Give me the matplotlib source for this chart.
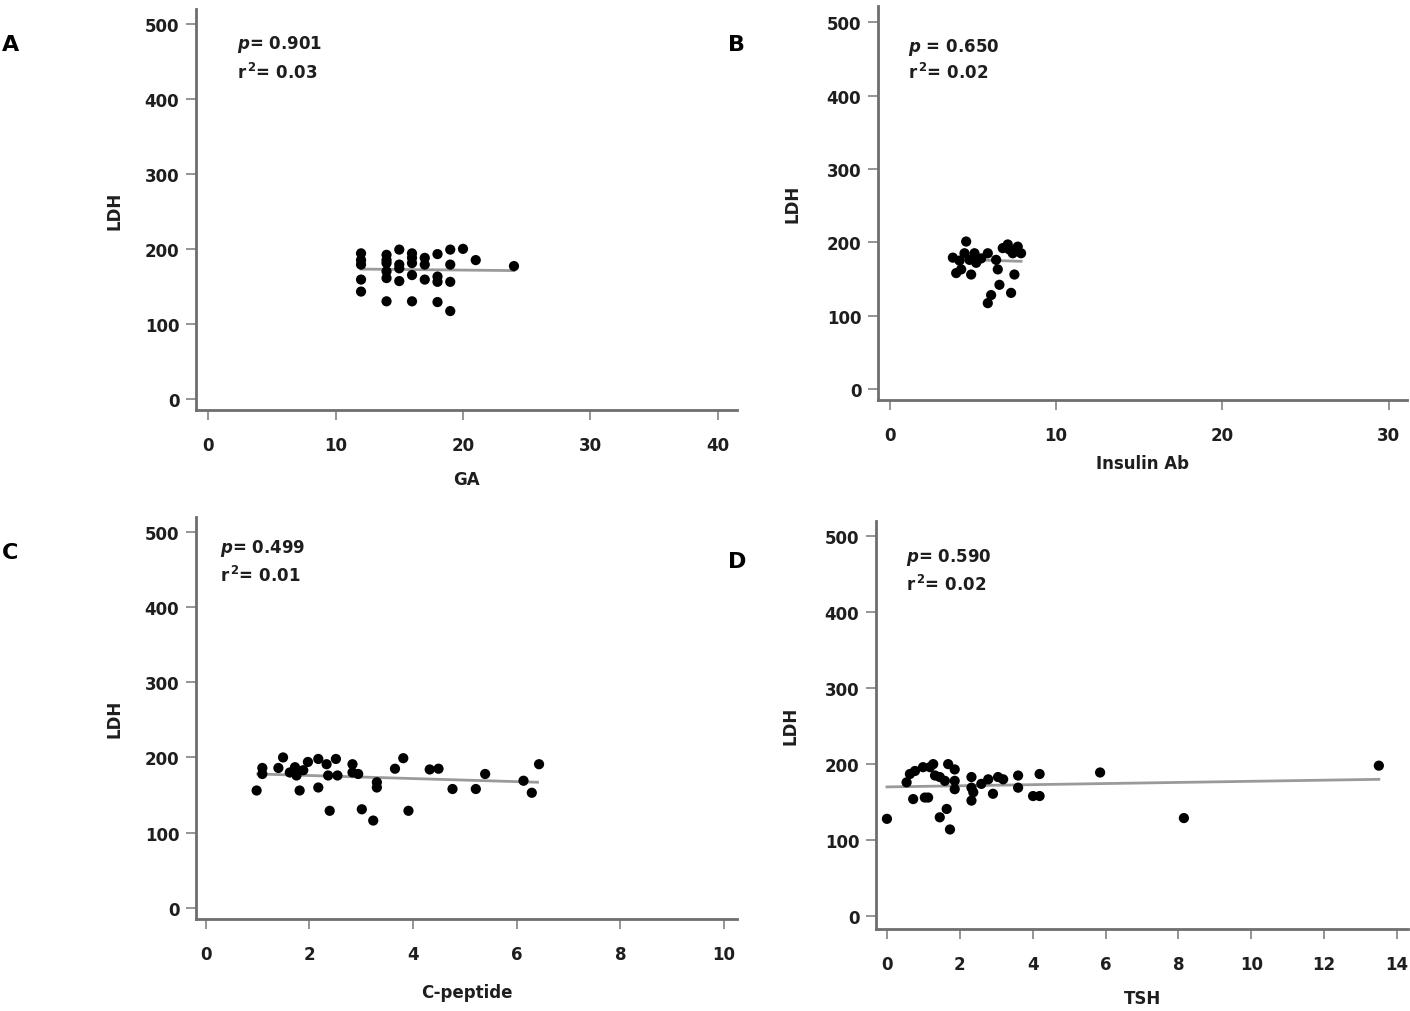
import matplotlib
matplotlib.use("Agg")
import matplotlib.pyplot as plt
import numpy as np

plt.rcParams['font.family'] = ['DejaVu Sans']
plt.rcParams['mathtext.fontset'] = 'custom'
plt.rcParams['mathtext.rm'] = 'DejaVu Sans:bold'
plt.rcParams['mathtext.it'] = 'DejaVu Sans:italic:bold'
plt.rcParams['mathtext.bf'] = 'DejaVu Sans:bold'

# ---------------- data ----------------
# Panel A: GA vs LDH
ga_x = [12, 12, 12, 12, 12, 14, 14, 14, 14, 14, 14, 15, 15, 15, 15, 16, 16, 16, 16, 16,
        17, 17, 17, 18, 18, 18, 18, 19, 19, 19, 19, 20, 21, 24]
ga_y = [194, 185, 179, 159, 143, 192, 185, 181, 170, 161, 130, 199, 179, 174, 157, 194, 188, 181, 165, 130,
        188, 179, 159, 193, 163, 156, 129, 199, 179, 156, 117, 200, 185, 177]
ga_fit_x = [12, 24]
ga_fit_y = [173, 171]

# Panel B: Insulin Ab vs LDH
ins_x = [3.8, 4.0, 4.3, 4.5, 4.6, 4.8, 4.9, 5.1, 5.5, 5.9, 6.1, 5.9, 6.4, 6.5, 6.6, 6.8,
         7.1, 7.2, 7.4, 7.5, 7.3, 7.7, 7.9, 4.2, 5.2]
ins_y = [179, 158, 163, 185, 201, 176, 156, 185, 178, 185, 128, 117, 176, 163, 142, 192,
         197, 190, 185, 156, 131, 194, 185, 175, 172]
ins_fit_x = [3.8, 7.9]
ins_fit_y = [177, 174]

# Panel C: C-peptide vs LDH
cp_x = [0.98, 1.09, 1.09, 1.40, 1.49, 1.62, 1.72, 1.75, 1.81, 1.88, 1.97, 2.17, 2.17, 2.33, 2.36,
        2.39, 2.51, 2.54, 2.83, 2.83, 2.94, 3.01, 3.23, 3.30, 3.30, 3.65, 3.81, 3.91, 4.32, 4.49,
        4.76, 5.21, 5.39, 6.13, 6.29, 6.43]
cp_y = [156, 186, 178, 186, 200, 180, 187, 176, 156, 183, 194, 198, 160, 191, 176,
        129, 198, 176, 191, 180, 178, 131, 116, 167, 160, 185, 199, 129, 184, 185,
        158, 158, 178, 169, 153, 191]
cp_fit_x = [1.0, 6.4]
cp_fit_y = [178, 167]

# Panel D: TSH vs LDH
tsh_x = [0.0, 0.54, 0.63, 0.77, 0.72, 0.99, 1.04, 1.13, 1.18, 1.27, 1.32, 1.45, 1.59, 1.64, 1.45,
         1.73, 1.68, 1.86, 1.86, 1.86, 2.32, 2.32, 2.37, 2.32, 2.59, 2.78, 2.91, 3.05, 3.19, 3.60,
         3.60, 4.01, 4.19, 4.19, 5.85, 8.15, 13.5]
tsh_y = [128, 176, 187, 191, 154, 196, 156, 156, 196, 200, 185, 183, 178, 141, 130,
         114, 200, 193, 178, 167, 183, 169, 163, 152, 174, 180, 161, 183, 180, 185,
         169, 158, 158, 187, 189, 129, 198]
tsh_fit_x = [0.0, 13.5]
tsh_fit_y = [170, 180]

panels = [
    dict(letter="A", x=ga_x, y=ga_y, fx=ga_fit_x, fy=ga_fit_y, xlabel="GA",
         xticks=[0, 10, 20, 30, 40], xlim=(-0.95, 41.5), ylim=(-15, 520),
         p="0.901", p_sep="= ", r2="0.03",
         rect=(196, 10, 737, 411), txt=(0.076, 0.913, 0.843), xpad=11, ypad=15),
    dict(letter="B", x=ins_x, y=ins_y, fx=ins_fit_x, fy=ins_fit_y, xlabel="Insulin Ab",
         xticks=[0, 10, 20, 30], xlim=(-0.7, 31.1), ylim=(-15, 522),
         p="0.650", p_sep=" = ", r2="0.02",
         rect=(878, 7, 1407, 401), txt=(0.057, 0.898, 0.832), xpad=7, ypad=18),
    dict(letter="C", x=cp_x, y=cp_y, fx=cp_fit_x, fy=cp_fit_y, xlabel="C-peptide",
         xticks=[0, 2, 4, 6, 8, 10], xlim=(-0.19, 10.25), ylim=(-15, 520),
         p="0.499", p_sep="= ", r2="0.01",
         rect=(196, 518, 737, 920), txt=(0.044, 0.925, 0.856), xpad=14, ypad=15),
    dict(letter="D", x=tsh_x, y=tsh_y, fx=tsh_fit_x, fy=tsh_fit_y, xlabel="TSH",
         xticks=[0, 2, 4, 6, 8, 10, 12, 14], xlim=(-0.3, 14.3), ylim=(-17, 520),
         p="0.590", p_sep="= ", r2="0.02",
         rect=(876, 522, 1408, 930), txt=(0.056, 0.914, 0.846), xpad=11, ypad=18),
]
yticks = [0, 100, 200, 300, 400, 500]

W, H = 1410, 1012
fig = plt.figure(figsize=(W / 100, H / 100), dpi=100)

spine_col = "#6e6e6e"
tick_col = "#8c8c8c"
text_col = "#1e1e1e"

letter_pos = {"A": (2, 45), "B": (728, 45), "C": (2, 553), "D": (728, 562)}

for pn in panels:
    l, t, r, b = pn["rect"]
    ax = fig.add_axes([l / W, 1 - b / H, (r - l) / W, (b - t) / H])
    ax.scatter(pn["x"], pn["y"], s=54, color="black", edgecolors="none", zorder=3)
    ax.plot(pn["fx"], pn["fy"], color="#9a9a9a", lw=2.0, zorder=2)
    ax.set_xlim(*pn["xlim"])
    ax.set_ylim(*pn["ylim"])
    ax.set_xticks(pn["xticks"])
    ax.set_yticks(yticks)
    for s in ["top", "right"]:
        ax.spines[s].set_visible(False)
    for s in ["left", "bottom"]:
        ax.spines[s].set_color(spine_col)
        ax.spines[s].set_linewidth(2.0)
    ax.tick_params(axis="both", direction="out", length=7, width=1.3, color=tick_col,
                   labelsize=12, labelcolor=text_col, pad=5)
    ax.tick_params(axis="x", pad=12)
    for lab in ax.get_xticklabels() + ax.get_yticklabels():
        lab.set_fontweight("bold")
    ax.set_xlabel(pn["xlabel"], fontsize=12, fontweight="bold", color=text_col, labelpad=pn["xpad"])
    ax.set_ylabel("LDH", fontsize=12, fontweight="bold", color=text_col, labelpad=pn["ypad"])
    tx, ty1, ty2 = pn["txt"]
    ax.text(tx, ty1, r"$\it{p}$" + pn["p_sep"] + pn["p"], transform=ax.transAxes,
            fontsize=12, fontweight="bold", color=text_col, va="center", ha="left")
    ax.text(tx, ty2, r"r$^{\,2}$= " + pn["r2"], transform=ax.transAxes,
            fontsize=12, fontweight="bold", color=text_col, va="center", ha="left")
    lx, ly = letter_pos[pn["letter"]]
    fig.text(lx / W, 1 - ly / H, pn["letter"], fontsize=16, fontweight="bold",
             color="black", va="center", ha="left")

fig.savefig("out.png", dpi=100, facecolor="white")
